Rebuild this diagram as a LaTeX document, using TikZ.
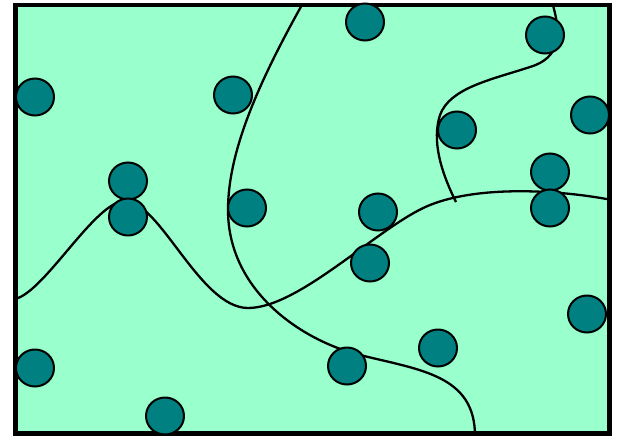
\documentclass[tikz,border=0pt]{standalone}
\usetikzlibrary{shapes.geometric}
\definecolor{bggreen}{RGB}{153,255,204}
\definecolor{dotteal}{RGB}{0,128,128}
\tikzset{
  dot/.style={ellipse, draw=black, line width=2pt, fill=dotteal, minimum width=38pt, minimum height=37pt, inner sep=0pt},
  border/.style={draw=black, line width=4.5pt, fill=bggreen},
  curve/.style={draw=black, line width=2.3pt}
}
\begin{document}
\begin{tikzpicture}[x=1pt,y=-1pt]
\useasboundingbox (0,0) rectangle (617,436);
\path[border] (15.5,5) rectangle (609.5,433.5);
\begin{scope}
\clip (15.5,5) rectangle (609.5,433.5);
\draw[curve] (15,299) .. controls (45,292) and (95,201) .. (125,201)
  .. controls (160,201) and (200,308) .. (248,308)
  .. controls (300,308) and (380,225) .. (430,205)
  .. controls (480,185) and (560,190) .. (612,200);
\draw[curve] (303,3) .. controls (260,80) and (228,150) .. (228,210)
  .. controls (228,290) and (300,340) .. (360,355)
  .. controls (420,370) and (475,375) .. (475,436);
\draw[curve] (552,2) .. controls (562,35) and (560,58) .. (530,67)
  .. controls (490,80) and (450,88) .. (440,115)
  .. controls (432,140) and (440,170) .. (456,202);
\end{scope}
\node[dot] (c1) at (35,97) {};
\node[dot] (c2) at (233,95) {};
\node[dot] (c3) at (365,22) {};
\node[dot] (c4) at (545,35) {};
\node[dot] (c5) at (590,115) {};
\node[dot] (c6) at (457,130) {};
\node[dot] (c7) at (128,181) {};
\node[dot] (c8) at (128,217) {};
\node[dot] (c9) at (247,208) {};
\node[dot] (c10) at (378,212) {};
\node[dot] (c11) at (550,172) {};
\node[dot] (c12) at (550,208) {};
\node[dot] (c13) at (370,263) {};
\node[dot] (c14) at (587,314) {};
\node[dot] (c15) at (438,348) {};
\node[dot] (c16) at (347,366) {};
\node[dot] (c17) at (35,368) {};
\node[dot] (c18) at (165,416) {};
\end{tikzpicture}
\end{document}
